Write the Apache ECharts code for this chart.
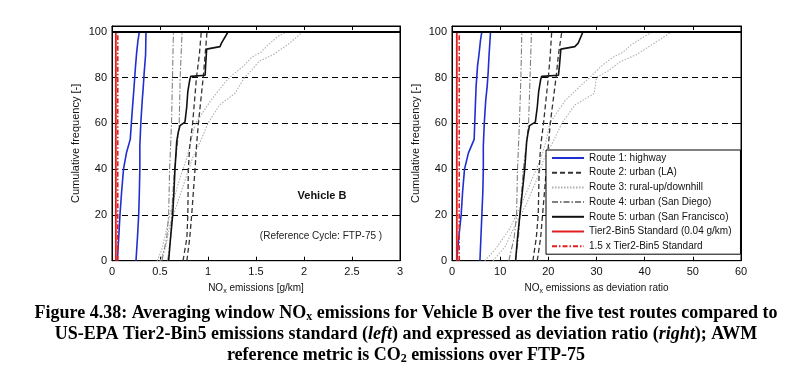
<!DOCTYPE html>
<html><head><meta charset="utf-8">
<script src="https://cdn.jsdelivr.net/npm/echarts@6/dist/echarts.min.js"></script>
<style>html,body{margin:0;padding:0;background:#fff}#c{width:812px;height:384px}</style>
</head><body><div id="c"></div>
<script>
// ---- Data (x, cumulative %) ----
const legendNames = ['Route 1: highway','Route 2: urban (LA)','Route 3: rural-up/downhill','Route 4: urban (San Diego)','Route 5: urban (San Francisco)','Tier2-Bin5 Standard (0.04 g/km)','1.5 x Tier2-Bin5 Standard'];
const xTicksLeft = [0,0.5,1,1.5,2,2.5,3];
const xTicksRight = [0,10,20,30,40,50,60];
const yTicks = [0,20,40,60,80,100];

// Left panel: NOx [g/km]
const L_r1a = [[0.055,0],[0.07,10],[0.083,20],[0.10,30],[0.12,40],[0.15,47],[0.19,53],[0.21,65],[0.23,76],[0.245,85],[0.257,91],[0.27,96],[0.285,100]];
const L_r1b = [[0.25,0],[0.265,10],[0.278,20],[0.285,30],[0.29,40],[0.29,50],[0.30,60],[0.315,70],[0.326,76],[0.335,82],[0.35,90],[0.354,100]];
const L_r2a = [[0.74,0],[0.78,10],[0.79,20],[0.795,40],[0.81,50],[0.84,60],[0.88,80],[0.91,90],[0.93,100]];
const L_r2b = [[0.78,0],[0.81,10],[0.83,20],[0.865,40],[0.88,50],[0.90,60],[0.95,80],[0.97,90],[0.99,100]];
const L_r3a = [[0.47,0],[0.52,5],[0.57,14],[0.63,25],[0.70,35],[0.78,45],[0.82,52],[0.87,60],[1.03,70],[1.18,78],[1.25,81],[1.37,85],[1.46,89],[1.55,91],[1.62,94],[1.73,98],[1.82,100]];
const L_r3b = [[0.50,0],[0.56,6],[0.60,15],[0.68,25],[0.76,35],[0.84,45],[0.92,52],[1.00,60],[1.12,68],[1.28,73],[1.38,80],[1.45,83],[1.53,87],[1.68,90],[1.85,95],[1.99,100]];
const L_r4a = [[0.52,0],[0.57,10],[0.59,20],[0.60,40],[0.61,50],[0.62,60],[0.63,80],[0.64,100]];
const L_r4b = [[0.58,0],[0.61,10],[0.62,20],[0.65,40],[0.68,50],[0.70,60],[0.71,80],[0.73,100]];
const L_r5 = [[0.59,0],[0.61,10],[0.632,20],[0.645,30],[0.656,40],[0.674,52],[0.69,56],[0.708,59],[0.76,60.5],[0.778,67],[0.79,74],[0.81,79],[0.82,80.5],[0.97,81],[0.975,85],[0.986,92.4],[1.125,93.5],[1.14,95],[1.21,100]];
const L_std = [0.04];
const L_std15 = [0.06];

// Right panel: deviation ratio
const R_r1a = [[1.0,0],[1.4,10],[1.9,20],[2.2,30],[2.6,40],[3.4,47],[4.6,53],[4.8,65],[5.0,76],[5.3,85],[5.6,90],[5.9,96],[6.2,100]];
const R_r1b = [[5.8,0],[6.0,10],[6.2,20],[6.4,30],[6.5,40],[6.5,50],[6.7,60],[7.0,70],[7.3,76],[7.5,82],[7.7,90],[8.0,100]];
const R_r2a = [[16.8,0],[17.5,10],[17.9,20],[18.1,40],[18.4,50],[19.0,60],[20.0,80],[20.4,90],[20.7,100]];
const R_r2b = [[17.7,0],[18.4,10],[18.8,20],[19.6,40],[20.0,50],[20.4,60],[21.6,80],[22.1,90],[22.8,100]];
const R_r3a = [[6.8,0],[9,5],[12,14],[14.5,25],[16.5,35],[18.5,45],[19.5,52],[20.3,60],[23.5,70],[27.5,78],[28.6,80],[31,85],[33.5,89],[35.5,91],[37,94],[40,98],[41.8,100]];
const R_r3b = [[8.5,0],[11,6],[13,15],[15.5,25],[17.5,35],[19.2,45],[21,52],[22.8,60],[25.5,68],[29.5,73],[30,80],[32.5,83],[35,87],[38.3,90],[42,95],[45.6,100]];
const R_r4a = [[11.8,0],[12.9,10],[13.4,20],[13.6,40],[13.8,50],[14.0,60],[14.3,80],[14.5,100]];
const R_r4b = [[13.2,0],[13.8,10],[14.1,20],[14.8,40],[15.4,50],[15.9,60],[16.2,80],[16.5,100]];
const R_r5 = [[13.2,0],[13.6,10],[14.1,20],[14.6,30],[15.1,40],[15.5,52],[15.8,56],[16.1,59],[17.3,60.5],[17.7,67],[18.0,74],[18.4,79],[18.6,80.5],[22.1,81],[22.3,85],[22.6,92.4],[25.5,93.5],[26.2,95],[27.2,100]];
const R_std = [1.0];
const R_std15 = [1.5];

// ---- Styles ----
const FONT = 'Liberation Sans, Arial, sans-serif';
const SERIF = 'Liberation Serif, Times New Roman, serif';
const styles = [
  {color:'#1f2fd0', width:1.6, type:'solid'},
  {color:'#333', width:1.3, type:[5,3]},
  {color:'#b0b0b0', width:1.1, type:[1.5,1.5]},
  {color:'#808080', width:1.1, type:[6,2,1.5,2]},
  {color:'#111', width:1.6, type:'solid'},
  {color:'#e02020', width:1.8, type:'solid'},
  {color:'#e02020', width:1.6, type:[5,2,1.5,2]}
];
function ser(nameIdx, data, gi) {
  const s = styles[nameIdx];
  return {type:'line', name:legendNames[nameIdx], xAxisIndex:gi*2, yAxisIndex:gi*2, data:data,
    symbol:'none', showSymbol:false, animation:false, silent:true,
    lineStyle:{color:s.color, width:s.width, type:s.type}, itemStyle:{color:s.color}};
}
function vline(v){ return [[v[0],0],[v[0],100]]; }

const series = [];
[[L_r1a,L_r1b,L_r2a,L_r2b,L_r3a,L_r3b,L_r4a,L_r4b,L_r5,L_std,L_std15],
 [R_r1a,R_r1b,R_r2a,R_r2b,R_r3a,R_r3b,R_r4a,R_r4b,R_r5,R_std,R_std15]].forEach((d,gi)=>{
  series.push(ser(2,d[4],gi), ser(2,d[5],gi), ser(3,d[6],gi), ser(3,d[7],gi),
              ser(1,d[2],gi), ser(1,d[3],gi), ser(4,d[8],gi),
              ser(0,d[0],gi), ser(0,d[1],gi), ser(5,vline(d[9]),gi), ser(6,vline(d[10]),gi));
});
// top solid line at 100
series.push({type:'line', xAxisIndex:0, yAxisIndex:0, data:[], silent:true,
  markLine:{symbol:'none', silent:true, label:{show:false}, lineStyle:{color:'#000', width:2, type:'solid'}, data:[{yAxis:100}]}});
series.push({type:'line', xAxisIndex:2, yAxisIndex:2, data:[], silent:true,
  markLine:{symbol:'none', silent:true, label:{show:false}, lineStyle:{color:'#000', width:2, type:'solid'}, data:[{yAxis:100}]}});

const axisLbl = {color:'#111', fontSize:11, fontFamily:FONT};
function xAx(gi, ticks, name, pos) {
  const main = pos==='bottom';
  return {type:'value', gridIndex:gi, position:pos, min:ticks[0], max:ticks[ticks.length-1], interval:ticks[1]-ticks[0],
    axisLine:{show:true, onZero:false, lineStyle:{color:'#000', width:1}},
    axisTick:{show:true, inside:true, length:4, lineStyle:{color:'#000'}},
    axisLabel: main ? Object.assign({margin:6}, axisLbl) : {show:false},
    splitLine:{show:false},
    name: main ? name : '', nameLocation:'middle', nameGap:22,
    nameTextStyle:{color:'#111', fontSize:10, fontFamily:FONT, rich:{s:{fontSize:7, fontFamily:FONT, color:'#111', padding:[5,0,0,0]}}}};
}
function yAx(gi, pos) {
  const main = pos==='left';
  return {type:'value', gridIndex:gi, position:pos, min:0, max:102.5, interval:20,
    axisLine:{show:true, onZero:false, lineStyle:{color:'#000', width:1}},
    axisTick:{show:true, inside:true, length:4, lineStyle:{color:'#000'}},
    axisLabel: main ? Object.assign({margin:5, showMaxLabel:false, formatter:v=> (v%20===0? String(v):'')}, axisLbl) : {show:false},
    splitLine: main ? {show:true, lineStyle:{color:'#000', type:[6,4], width:1}} : {show:false},
    name: main ? 'Cumulative frequency [-]' : '', nameLocation:'middle', nameGap:31,
    nameTextStyle:{color:'#111', fontSize:11, fontFamily:FONT}};
}

const chart = echarts.init(document.getElementById('c'), null, {renderer:'canvas'});
chart.setOption({
  backgroundColor:'#fff',
  animation:false,
  grid:[{left:112, right:412, top:26, bottom:123.3, show:true, borderColor:'#000', borderWidth:1},
        {left:452, right:71, top:26, bottom:123.3, show:true, borderColor:'#000', borderWidth:1}],
  xAxis:[xAx(0,xTicksLeft,'NO{s|x} emissions [g/km]','bottom'), xAx(0,xTicksLeft,'','top'),
         xAx(1,xTicksRight,'NO{s|x} emissions as deviation ratio','bottom'), xAx(1,xTicksRight,'','top')],
  yAxis:[yAx(0,'left'), yAx(0,'right'), yAx(1,'left'), yAx(1,'right')],
  legend:{data:legendNames, orient:'vertical', left:546, top:150, padding:[3,9,3,5],
    backgroundColor:'#fff', borderColor:'#000', borderWidth:1, borderRadius:0,
    itemWidth:32, itemHeight:10, itemGap:4.7, selectedMode:false,
    itemStyle:{opacity:0, borderWidth:0},
    textStyle:{color:'#111', fontSize:10, fontFamily:FONT}},
  series: series,
  graphic:[
    {type:'text', silent:true, style:{text:'Vehicle B', x:322, y:196, textAlign:'center', textVerticalAlign:'middle', fill:'#111', fontSize:11, fontWeight:'bold', fontFamily:FONT}},
    {type:'text', silent:true, style:{text:'(Reference Cycle: FTP-75 )', x:321, y:236, textAlign:'center', textVerticalAlign:'middle', fill:'#222', fontSize:10, fontFamily:FONT}},
    {type:'text', silent:true, style:{text:'Figure 4.38: Averaging window NO{s|x} emissions for Vehicle B over the five test routes compared to', x:406, y:313, textAlign:'center', textVerticalAlign:'middle', fill:'#000', fontSize:18, fontWeight:'bold', fontFamily:SERIF,
      rich:{s:{fontSize:12, fontWeight:'bold', fontFamily:SERIF, fill:'#000', padding:[7,0,0,0]}}}},
    {type:'text', silent:true, style:{text:'US-EPA Tier2-Bin5 emissions standard ({i|left}) and expressed as deviation ratio ({i|right}); AWM', x:406, y:334, textAlign:'center', textVerticalAlign:'middle', fill:'#000', fontSize:18, fontWeight:'bold', fontFamily:SERIF,
      rich:{i:{fontSize:18, fontWeight:'bold', fontStyle:'italic', fontFamily:SERIF, fill:'#000'}}}},
    {type:'text', silent:true, style:{text:'reference metric is CO{s|2} emissions over FTP-75', x:406, y:355, textAlign:'center', textVerticalAlign:'middle', fill:'#000', fontSize:18, fontWeight:'bold', fontFamily:SERIF,
      rich:{s:{fontSize:12, fontWeight:'bold', fontFamily:SERIF, fill:'#000', padding:[7,0,0,0]}}}}
  ]
});
</script></body></html>
